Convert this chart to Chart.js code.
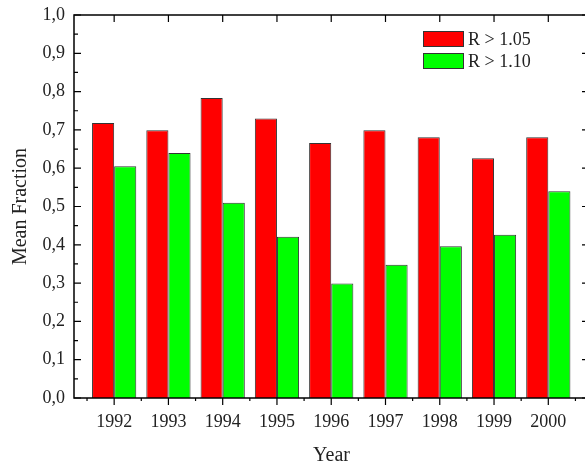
<!DOCTYPE html>
<html>
<head>
<meta charset="utf-8">
<script src="https://cdn.jsdelivr.net/npm/chart.js@4/dist/chart.umd.min.js"></script>
<style>
  html, body { margin: 0; padding: 0; background: #fff; overflow: hidden; }
  #wrap { width: 592px; height: 463px; }
</style>
</head>
<body>
<div id="wrap"><canvas id="meanChart" width="592" height="463"></canvas></div>
<script>
// values
const years = [1992, 1993, 1994, 1995, 1996, 1997, 1998, 1999, 2000];
const fracR105 = [0.718, 0.699, 0.783, 0.730, 0.666, 0.699, 0.681, 0.626, 0.681];
const fracR110 = [0.605, 0.640, 0.510, 0.421, 0.299, 0.348, 0.396, 0.426, 0.540];
const yTicks = [0, 0.1, 0.2, 0.3, 0.4, 0.5, 0.6, 0.7, 0.8, 0.9, 1.0];

const serif = "'Liberation Serif', 'Times New Roman', serif";
const ink = '#222';

// frame + inward/outward ticks like the original plot
const framePlugin = {
    id: 'frame',
    afterDatasetsDraw(chart) {
        const ctx = chart.ctx;
        const a = chart.chartArea;
        const x = chart.scales.x, y = chart.scales.y;
        ctx.save();
        ctx.strokeStyle = '#000';
        ctx.lineWidth = 1.5;
        ctx.strokeRect(a.left, a.top, a.right - a.left, a.bottom - a.top);
        ctx.lineWidth = 1.2;
        ctx.beginPath();
        yTicks.forEach(function (v, i) {
            const py = y.getPixelForValue(v);
            ctx.moveTo(a.left, py); ctx.lineTo(a.left + 7, py);
            ctx.moveTo(a.right, py); ctx.lineTo(a.right - 7, py);
            if (i < yTicks.length - 1) {
                const pm = y.getPixelForValue(v + 0.05);
                ctx.moveTo(a.left, pm); ctx.lineTo(a.left + 4, pm);
                ctx.moveTo(a.right, pm); ctx.lineTo(a.right - 4, pm);
            }
        });
        years.forEach(function (yr, i) {
            const px = x.getPixelForValue(yr);
            ctx.moveTo(px, a.bottom); ctx.lineTo(px, a.bottom + 7);
            ctx.moveTo(px, a.top); ctx.lineTo(px, a.top + 7);
            const pm = x.getPixelForValue(yr - 0.5);
            ctx.moveTo(pm, a.bottom); ctx.lineTo(pm, a.bottom + 3);
            if (i === years.length - 1) {
                const pe = x.getPixelForValue(yr + 0.5);
                ctx.moveTo(pe, a.bottom); ctx.lineTo(pe, a.bottom + 3);
            }
        });
        ctx.stroke();
        ctx.restore();
    }
};

// legend inside the plot, top right
const boxLegend = {
    id: 'boxLegend',
    afterDraw(chart) {
        const ctx = chart.ctx;
        const a = chart.chartArea;
        ctx.save();
        ctx.font = '18px ' + serif;
        ctx.textBaseline = 'middle';
        chart.data.datasets.forEach(function (ds, i) {
            const bx = a.left + 349, by = a.top + 16 + i * 22;
            ctx.fillStyle = ds.backgroundColor;
            ctx.fillRect(bx, by, 41, 16);
            ctx.strokeStyle = '#333';
            ctx.lineWidth = 1;
            ctx.strokeRect(bx + 0.5, by + 0.5, 40, 15);
            ctx.fillStyle = ink;
            ctx.fillText(ds.label, bx + 45, by + 9);
        });
        ctx.restore();
    }
};

const ctx = document.getElementById('meanChart').getContext('2d');
const chart = new Chart(ctx, {
    type: 'bar',
    data: {
        labels: years,
        datasets: [
            {
                label: 'R > 1.05',
                data: fracR105,
                backgroundColor: '#ff0000',
                borderColor: '#333',
                borderWidth: 1,
            },
            {
                label: 'R > 1.10',
                data: fracR110,
                backgroundColor: '#00ff00',
                borderColor: '#333',
                borderWidth: 1,
            },
        ]
    },
    options: {
        responsive: false,
        animation: false,
        layout: { padding: { left: 0, top: 15, right: 3, bottom: 0 } },
        datasets: { bar: { barPercentage: 1.0, categoryPercentage: 0.815 } },
        plugins: {
            legend: { display: false },
            tooltip: { enabled: false },
        },
        scales: {
            x: {
                type: 'linear',
                offset: false,
                min: 1991.26,
                max: 2000.75,
                grid: { display: false, drawTicks: false, offset: false },
                border: { display: false },
                afterBuildTicks: function (scale) {
                    scale.ticks = years.map(v => ({ value: v }));
                },
                afterFit: function (scale) { scale.height = 65; },
                ticks: {
                    padding: 13,
                    color: ink,
                    font: { family: serif, size: 18 },
                    callback: v => String(v),
                },
                title: {
                    display: true,
                    text: 'Year',
                    color: ink,
                    font: { family: serif, size: 20 },
                    padding: { top: 0, bottom: -5 },
                },
            },
            y: {
                min: 0,
                max: 1,
                grid: { display: false, drawTicks: false },
                border: { display: false },
                afterBuildTicks: function (scale) {
                    scale.ticks = yTicks.map(v => ({ value: v }));
                },
                afterFit: function (scale) {
                    scale.width = 74;
                    scale.paddingTop = 0;
                    scale.paddingBottom = 0;
                },
                ticks: {
                    padding: 9,
                    color: ink,
                    font: { family: serif, size: 18 },
                    callback: v => v.toFixed(1).replace('.', ','),
                },
                title: {
                    display: true,
                    text: 'Mean Fraction',
                    color: ink,
                    font: { family: serif, size: 20 },
                    padding: { top: 9, bottom: 0 },
                },
            }
        }
    },
    plugins: [framePlugin, boxLegend]
});
</script>
</body>
</html>
